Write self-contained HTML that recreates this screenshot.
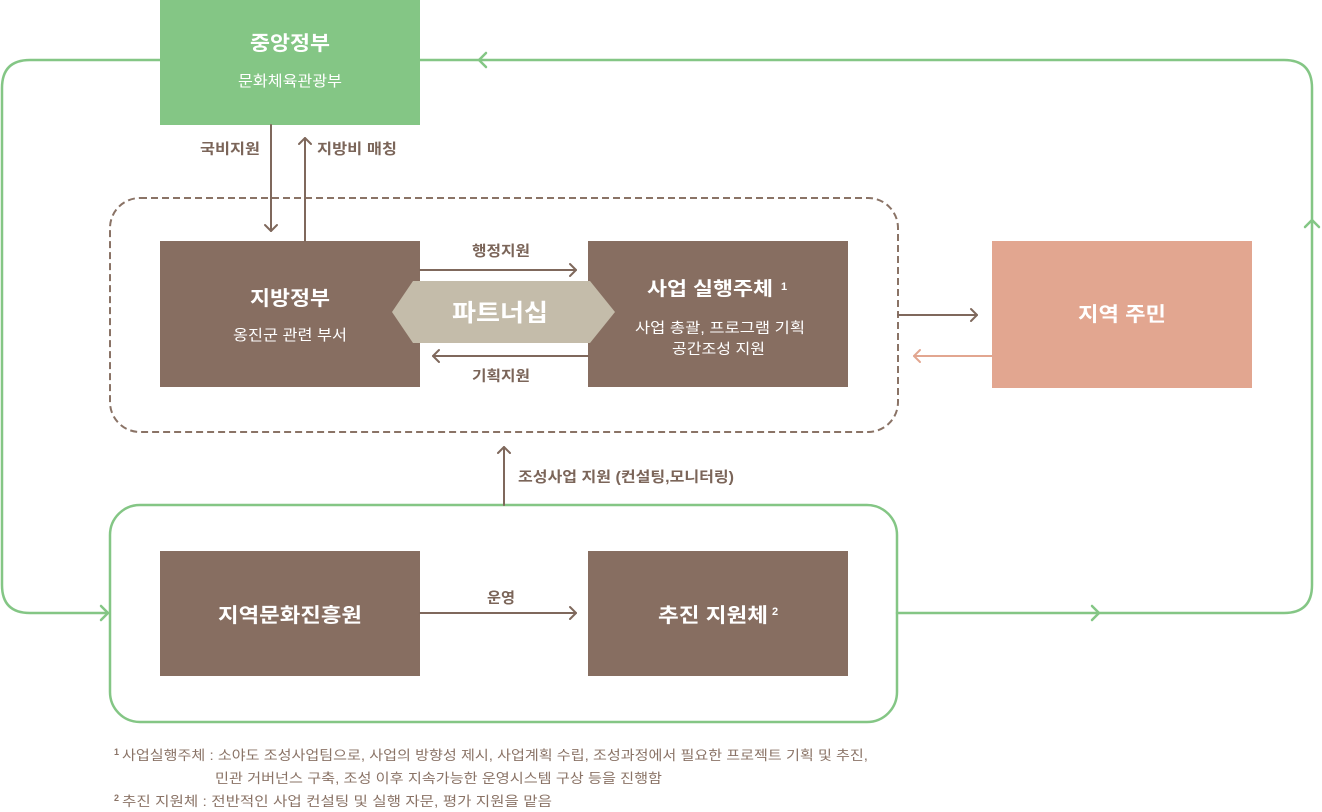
<!DOCTYPE html>
<html><head><meta charset="utf-8">
<style>
html,body{margin:0;padding:0;background:#fff;}
svg{display:block;font-family:"Liberation Sans","Noto Sans CJK KR",sans-serif;}
</style></head>
<body>
<svg width="1322" height="812" viewBox="0 0 1322 812" xmlns="http://www.w3.org/2000/svg">
  <!-- green outer loop -->
  <g fill="none" stroke="#84c685" stroke-width="2.5" stroke-linecap="round" stroke-linejoin="round">
    <path d="M160 60 H30 Q2 60 2 88 V585 Q2 613 30 613 H108"/>
    <polyline points="101,606 108,613 101,620"/>
    <path d="M420 60 H1284 Q1312 60 1312 88 V585 Q1312 613 1284 613 H897"/>
    <polyline points="486,53 479,60 486,67"/>
    <polyline points="1305,227 1312,220 1319,227"/>
    <polyline points="1092,606 1099,613 1092,620"/>
    <rect x="110" y="505" width="787" height="217" rx="30" ry="30"/>
  </g>

  <!-- dashed box -->
  <rect x="110" y="198" width="788" height="234" rx="30" ry="30" fill="none" stroke="#8a7366" stroke-width="2" stroke-dasharray="7 4"/>

  <!-- boxes -->
  <rect x="160" y="0" width="260" height="125" fill="#84c685"/>
  <rect x="160" y="241" width="260" height="146" fill="#876e61"/>
  <rect x="588" y="241" width="260" height="146" fill="#876e61"/>
  <rect x="992" y="241" width="260" height="147" fill="#e2a690"/>
  <rect x="160" y="551" width="260" height="125" fill="#876e61"/>
  <rect x="588" y="551" width="260" height="125" fill="#876e61"/>

  <!-- partnership hexagon -->
  <polygon points="392,312 413,281 590,281 615,312 590,343 413,343" fill="#c4bcaa"/>

  <!-- brown connectors -->
  <g fill="none" stroke="#7f685c" stroke-width="2" stroke-linecap="round" stroke-linejoin="round">
    <line x1="271" y1="125" x2="271" y2="231"/>
    <polyline points="265,225 271,231 277,225"/>
    <line x1="305" y1="241" x2="305" y2="138"/>
    <polyline points="299,144 305,138 311,144"/>
    <line x1="420" y1="270" x2="576" y2="270"/>
    <polyline points="570,264 576,270 570,276"/>
    <line x1="588" y1="356" x2="433" y2="356"/>
    <polyline points="439,350 433,356 439,362"/>
    <line x1="898" y1="315" x2="977" y2="315"/>
    <polyline points="971,309 977,315 971,321"/>
    <line x1="504" y1="505" x2="504" y2="447"/>
    <polyline points="498,453 504,447 510,453"/>
    <line x1="420" y1="613" x2="576" y2="613"/>
    <polyline points="570,607 576,613 570,619"/>
  </g>
  <g fill="none" stroke="#e2a690" stroke-width="2" stroke-linecap="round" stroke-linejoin="round">
    <line x1="992" y1="356" x2="914" y2="356"/>
    <polyline points="920,350 914,356 920,362"/>
  </g>

  <!-- box texts -->
  <g fill="#fff" lengthAdjust="spacingAndGlyphs">
    <text x="250" y="50" font-size="20" font-weight="bold" textLength="80" lengthAdjust="spacingAndGlyphs">중앙정부</text>
    <text x="238" y="86" font-size="15" textLength="104" lengthAdjust="spacingAndGlyphs">문화체육관광부</text>
    <text x="250" y="305" font-size="20" font-weight="bold" textLength="80" lengthAdjust="spacingAndGlyphs">지방정부</text>
    <text x="233" y="340" font-size="15" textLength="114" lengthAdjust="spacingAndGlyphs">옹진군 관련 부서</text>
    <text x="452" y="321" font-size="24" font-weight="bold" textLength="96" lengthAdjust="spacingAndGlyphs">파트너십</text>
    <text x="647" y="295" font-size="19" font-weight="bold" textLength="126" lengthAdjust="spacingAndGlyphs">사업 실행주체</text>
    <text x="781" y="290" font-size="11" font-weight="bold">1</text>
    <text x="635" y="333" font-size="14.5" textLength="170" lengthAdjust="spacingAndGlyphs">사업 총괄, 프로그램 기획</text>
    <text x="672" y="354" font-size="14.5" textLength="93" lengthAdjust="spacingAndGlyphs">공간조성 지원</text>
    <text x="1078" y="321" font-size="20" font-weight="bold" textLength="88" lengthAdjust="spacingAndGlyphs">지역 주민</text>
    <text x="218" y="622" font-size="20" font-weight="bold" textLength="144" lengthAdjust="spacingAndGlyphs">지역문화진흥원</text>
    <text x="658" y="622" font-size="20" font-weight="bold" textLength="110" lengthAdjust="spacingAndGlyphs">추진 지원체</text>
    <text x="772" y="615" font-size="11" font-weight="bold">2</text>
  </g>

  <!-- connector labels -->
  <g fill="#7b6559" font-size="14.5" font-weight="bold">
    <text x="200" y="154" textLength="60" lengthAdjust="spacingAndGlyphs">국비지원</text>
    <text x="317" y="154" textLength="80" lengthAdjust="spacingAndGlyphs">지방비 매칭</text>
    <text x="472" y="256" textLength="58" lengthAdjust="spacingAndGlyphs">행정지원</text>
    <text x="472" y="381" textLength="58" lengthAdjust="spacingAndGlyphs">기획지원</text>
    <text x="518" y="482" textLength="216" lengthAdjust="spacingAndGlyphs">조성사업 지원 (컨설팅,모니터링)</text>
    <text x="487" y="603" textLength="28" lengthAdjust="spacingAndGlyphs">운영</text>
  </g>

  <!-- footnotes -->
  <g fill="#8a7366" font-size="13.5">
    <text x="114" y="755" font-size="9" font-weight="bold">1</text>
    <text x="122" y="760" textLength="746" lengthAdjust="spacingAndGlyphs">사업실행주체 : 소야도 조성사업팀으로, 사업의 방향성 제시, 사업계획 수립, 조성과정에서 필요한 프로젝트 기획 및 추진,</text>
    <text x="215" y="783" textLength="447" lengthAdjust="spacingAndGlyphs">민관 거버넌스 구축, 조성 이후 지속가능한 운영시스템 구상 등을 진행함</text>
    <text x="114" y="801" font-size="9" font-weight="bold">2</text>
    <text x="122" y="806" textLength="430" lengthAdjust="spacingAndGlyphs">추진 지원체 : 전반적인 사업 컨설팅 및 실행 자문, 평가 지원을 맡음</text>
  </g>
</svg>
</body></html>
